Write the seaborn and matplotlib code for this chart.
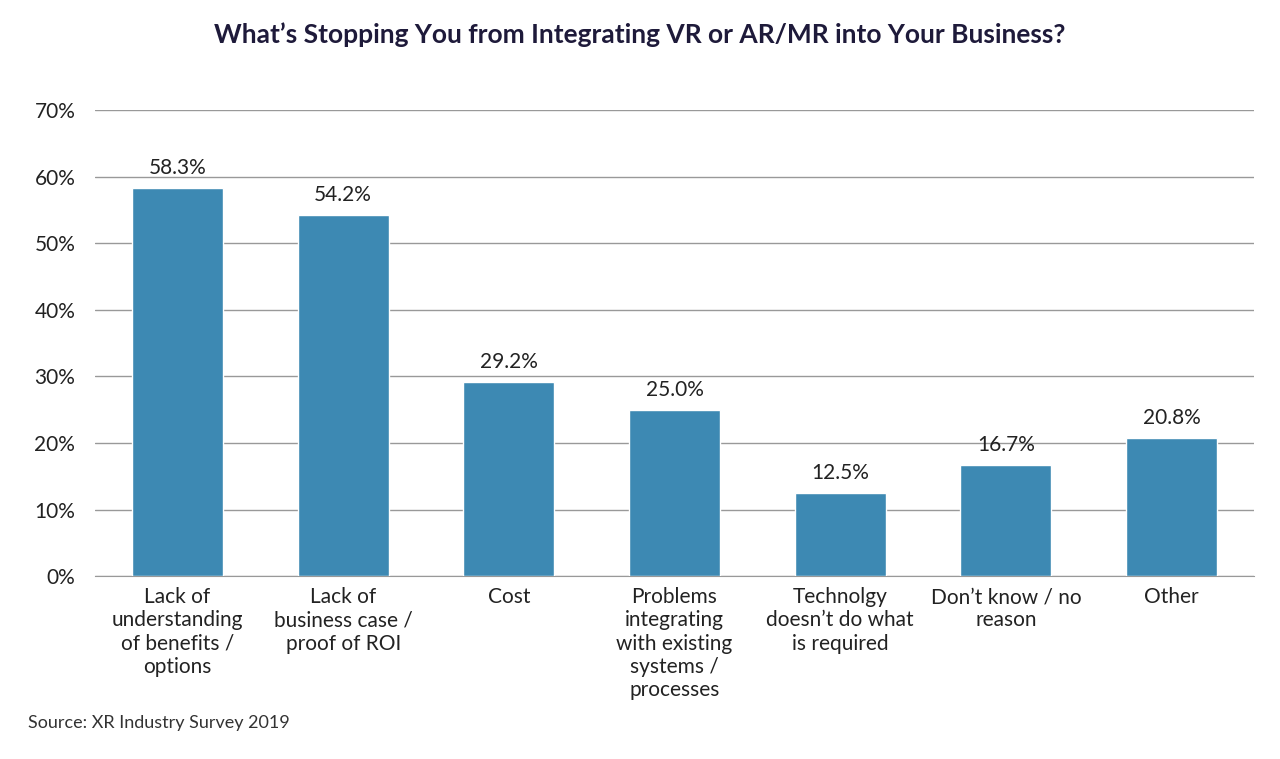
import matplotlib
matplotlib.use("Agg")
import matplotlib.pyplot as plt
import seaborn as sns
import pandas as pd

categories = [
    "Lack of\nunderstanding\nof benefits /\noptions",
    "Lack of\nbusiness case /\nproof of ROI",
    "Cost",
    "Problems\nintegrating\nwith existing\nsystems /\nprocesses",
    "Technolgy\ndoesn’t do what\nis required",
    "Don’t know / no\nreason",
    "Other",
]
values = [58.3, 54.2, 29.2, 25.0, 12.5, 16.7, 20.8]
df = pd.DataFrame({"reason": categories, "pct": values})

sns.set_style("white")
plt.rcParams["font.family"] = ["Lato", "DejaVu Sans"]

fig = plt.figure(figsize=(12.8, 7.59), dpi=100)
ax = fig.add_axes([0.074, 0.241, 0.906, 0.614])
sns.barplot(data=df, x="reason", y="pct", color="#3d89b3", width=0.55, saturation=1, ax=ax, zorder=3)

ax.set_ylim(0, 70)
ax.set_yticks(range(0, 71, 10))
ax.set_yticklabels([f"{t}%" for t in range(0, 71, 10)], fontsize=15, color="#222222")
ax.yaxis.grid(True, color="#999999", linewidth=1, zorder=0)
ax.tick_params(axis="x", labelsize=15, colors="#222222", length=0, pad=8)
ax.tick_params(axis="y", length=0, pad=14)
ax.set_xlabel("")
ax.set_ylabel("")
ax.set_xlim(-0.5, 6.5)
for s in ["top", "right", "left"]:
    ax.spines[s].set_visible(False)
ax.spines["bottom"].set_color("#999999")

for i, v in enumerate(values):
    ax.text(i, v + 1.5, f"{v:.1f}%", ha="center", va="bottom", fontsize=15, color="#222222")

fig.text(0.5, 0.955, "What’s Stopping You from Integrating VR or AR/MR into Your Business?",
         ha="center", va="center", fontsize=19, fontweight="bold", color="#1e1a3a")
fig.text(0.022, 0.047, "Source: XR Industry Survey 2019", fontsize=13, color="#333333", va="center")

fig.savefig("out.png", dpi=100)
